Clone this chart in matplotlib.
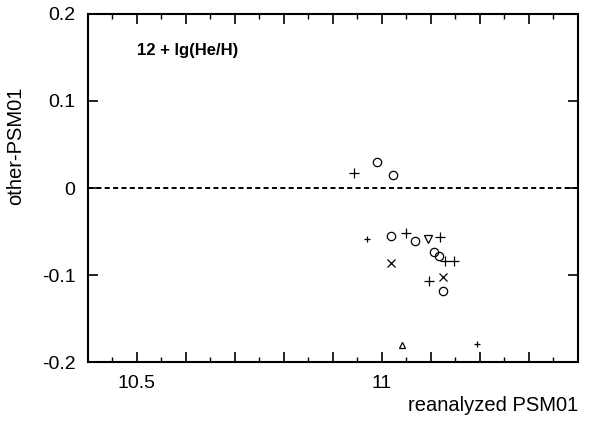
import matplotlib
matplotlib.use("Agg")
from matplotlib import pyplot as plt
from matplotlib.ticker import MultipleLocator, FixedFormatter, FixedLocator
import numpy as np

plt.rcParams['font.family'] = ['Liberation Sans', 'DejaVu Sans']

# points, grouped by symbol
plus_x = [10.943, 11.049, 11.118, 11.129, 11.147, 11.096]
plus_y = [0.017, -0.052, -0.056, -0.084, -0.084, -0.107]
small_plus_x = [10.969, 11.194]
small_plus_y = [-0.059, -0.179]
circle_x = [10.990, 11.022, 11.018, 11.067, 11.106, 11.116, 11.124]
circle_y = [0.030, 0.015, -0.055, -0.061, -0.074, -0.078, -0.118]
cross_x = [11.018, 11.124]
cross_y = [-0.086, -0.102]
tri_down_x = [11.094]
tri_down_y = [-0.059]
tri_up_x = [11.041]
tri_up_y = [-0.180]

fig = plt.figure(figsize=(5.94, 4.23), dpi=100)
ax = fig.add_axes([0.148, 0.144, 0.825, 0.823])

mk = dict(color='k', linestyle='none')
ax.plot(plus_x, plus_y, marker='+', markersize=7, markeredgewidth=0.9, **mk)
ax.plot(small_plus_x, small_plus_y, marker='+', markersize=4.5, markeredgewidth=0.9, **mk)
ax.plot(circle_x, circle_y, marker='o', markersize=6, markerfacecolor='none', markeredgewidth=0.9, **mk)
ax.plot(cross_x, cross_y, marker='x', markersize=6, markeredgewidth=0.9, **mk)
ax.plot(tri_down_x, tri_down_y, marker='v', markersize=6, markerfacecolor='none', markeredgewidth=0.9, **mk)
ax.plot(tri_up_x, tri_up_y, marker='^', markersize=5, markerfacecolor='none', markeredgewidth=0.9, **mk)

ax.axhline(0, color='k', linestyle=(0, (2.6, 1.7)), linewidth=1.4)

ax.set_xlim(10.4, 11.4)
ax.set_ylim(-0.2, 0.2)

# x ticks: labels only at 10.5 and 11
xt = np.round(np.arange(10.4, 11.41, 0.1), 2)
ax.xaxis.set_major_locator(FixedLocator(xt))
ax.xaxis.set_major_formatter(FixedFormatter(['10.5' if abs(v-10.5) < 1e-6 else ('11' if abs(v-11) < 1e-6 else '') for v in xt]))
ax.xaxis.set_minor_locator(MultipleLocator(0.05))
ax.set_yticks([-0.2, -0.1, 0, 0.1, 0.2])
ax.set_yticklabels(['-0.2', '-0.1', '0', '0.1', '0.2'])

ax.tick_params(which='major', direction='in', length=7, width=1.2, labelsize=14,
               top=True, right=True, pad=9)
ax.tick_params(which='minor', direction='in', length=3.5, width=1.0, top=True)
for s in ax.spines.values():
    s.set_linewidth(1.5)

ax.set_ylabel('other-PSM01', fontsize=14.5)
ax.yaxis.set_label_coords(-0.128, 0.62)
ax.set_xlabel('reanalyzed PSM01', fontsize=14.5, ha='right', va='center')
ax.xaxis.set_label_coords(1.0, -0.124)

ax.text(0.1, 0.895, '12 + lg(He/H)', transform=ax.transAxes, fontsize=12,
        fontweight='bold', va='center', ha='left')

plt.savefig('out.png', dpi=100)
plt.close()
